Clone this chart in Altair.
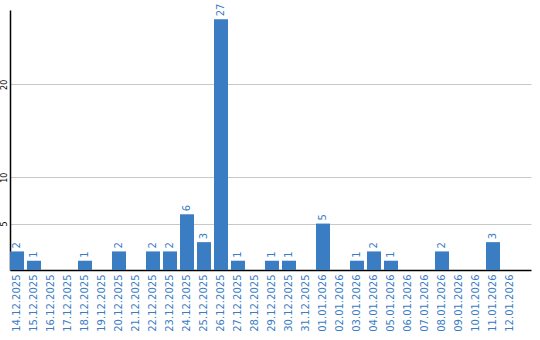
import altair as alt
import pandas as pd

dates = ["14.12.2025", "15.12.2025", "16.12.2025", "17.12.2025", "18.12.2025",
         "19.12.2025", "20.12.2025", "21.12.2025", "22.12.2025", "23.12.2025",
         "24.12.2025", "25.12.2025", "26.12.2025", "27.12.2025", "28.12.2025",
         "29.12.2025", "30.12.2025", "31.12.2025", "01.01.2026", "02.01.2026",
         "03.01.2026", "04.01.2026", "05.01.2026", "06.01.2026", "07.01.2026",
         "08.01.2026", "09.01.2026", "10.01.2026", "11.01.2026", "12.01.2026"]
counts = [2, 1, 0, 0, 1, 0, 2, 0, 2, 2, 6, 3, 27, 1, 0, 1, 1, 0, 5, 0,
          1, 2, 1, 0, 0, 2, 0, 0, 3, 0]
y_ticks = [5, 10, 20]

df = pd.DataFrame({"date": dates, "count": counts})

BLUE = "#3a7dc3"
FONT = "DejaVu Sans"

x_enc = alt.X("date:N", sort=dates, title=None,
              scale=alt.Scale(paddingInner=3/17, paddingOuter=0.412, align=0),
              axis=alt.Axis(labelAngle=270, labelColor=BLUE, labelFont=FONT,
                            labelFontSize=10, labelPadding=4, ticks=False,
                            domainColor="black", domainWidth=1.5, grid=False,
                            labelOverlap=False))
y_enc = alt.Y("count:Q", title=None,
              scale=alt.Scale(domain=[0, 28], nice=False),
              axis=alt.Axis(values=y_ticks, labelAngle=270, labelAlign="center",
                            labelBaseline="bottom", labelFont=FONT, labelFontSize=8,
                            labelColor="black", labelPadding=2, ticks=False,
                            domainColor="black", domainWidth=1.5,
                            gridColor="#c8c8c8", gridWidth=1))

bars = alt.Chart(df).mark_bar(color=BLUE).encode(x=x_enc, y=y_enc)

labels = alt.Chart(df).transform_filter("datum.count > 0").mark_text(
    angle=270, align="left", baseline="middle", dx=3, color=BLUE,
    font=FONT, fontSize=10
).encode(x=alt.X("date:N", sort=dates), y=alt.Y("count:Q"), text="count:Q")

chart = alt.layer(bars, labels).properties(
    width=521, height=260,
    autosize=alt.AutoSizeParams(type="none"),
    padding={"left": 10, "top": 10, "right": 9, "bottom": 70}
).configure_view(stroke=None)

chart.save("out.html", embed_options={"renderer": "svg", "actions": False})
